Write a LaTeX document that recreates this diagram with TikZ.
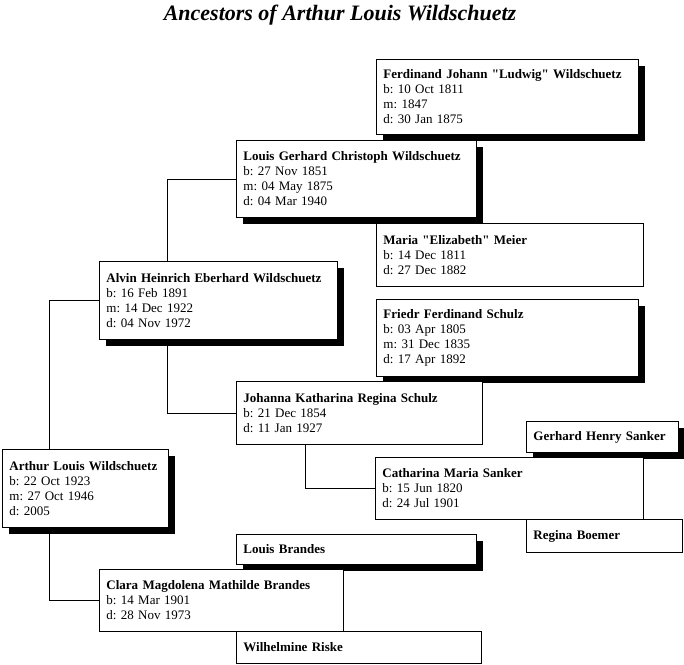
\documentclass[tikz,border=0pt]{standalone}
\usepackage{fontspec}
\setmainfont{Liberation Serif}[Ligatures=TeXOff]
\usetikzlibrary{shadows}

\tikzset{
  person/.style={draw, line width=0.9pt, fill=white, anchor=north west, align=left,
    inner xsep=7pt, inner ysep=0pt, font=\fontsize{13}{15}\selectfont\frenchspacing},
  male/.style={person, drop shadow={shadow xshift=7pt, shadow yshift=-7pt, opacity=1, fill=black}},
  female/.style={person},
  link/.style={draw, line width=0.9pt}
}

\begin{document}
\begin{tikzpicture}[x=1pt, y=-1pt]
  \useasboundingbox (0,0) rectangle (684,664);
  \node [anchor=base] (title) at (340,20) {\fontsize{22}{26}\selectfont\bfseries\itshape Ancestors of Arthur Louis Wildschuetz};

  \node [male, text width=248pt, minimum height=75pt] (ferdinand) at (376,59)
    {\textbf{Ferdinand Johann "Ludwig" Wildschuetz}\\b: 10 Oct 1811\\m: 1847\\d: 30 Jan 1875};
  \node [male, text width=226pt, minimum height=77pt] (louisg) at (236,140)
    {\textbf{Louis Gerhard Christoph Wildschuetz}\\b: 27 Nov 1851\\m: 04 May 1875\\d: 04 Mar 1940};
  \node [female, text width=253pt, minimum height=63pt] (maria) at (376,223)
    {\textbf{Maria "Elizabeth" Meier}\\b: 14 Dec 1811\\d: 27 Dec 1882};
  \node [male, text width=224pt, minimum height=78pt] (alvin) at (99,261)
    {\textbf{Alvin Heinrich Eberhard Wildschuetz}\\b: 16 Feb 1891\\m: 14 Dec 1922\\d: 04 Nov 1972};
  \node [male, text width=248pt, minimum height=77pt] (friedr) at (376,299)
    {\textbf{Friedr Ferdinand Schulz}\\b: 03 Apr 1805\\m: 31 Dec 1835\\d: 17 Apr 1892};
  \node [female, text width=232pt, minimum height=63pt] (johanna) at (236,381)
    {\textbf{Johanna Katharina Regina Schulz}\\b: 21 Dec 1854\\d: 11 Jan 1927};
  \node [male, text width=138pt, minimum height=31pt] (gerhard) at (526,421)
    {\textbf{Gerhard Henry Sanker}};
  \node [male, text width=152pt, minimum height=78pt] (arthur) at (2,449)
    {\textbf{Arthur Louis Wildschuetz}\\b: 22 Oct 1923\\m: 27 Oct 1946\\d: 2005};
  \node [female, text width=254pt, minimum height=62pt] (catharina) at (375,457)
    {\textbf{Catharina Maria Sanker}\\b: 15 Jun 1820\\d: 24 Jul 1901};
  \node [female, text width=142pt, minimum height=33pt] (regina) at (526,519)
    {\textbf{Regina Boemer}};
  \node [male, text width=226pt, minimum height=30pt] (louisb) at (236,534)
    {\textbf{Louis Brandes}};
  \node [female, text width=230pt, minimum height=62pt] (clara) at (99,569)
    {\textbf{Clara Magdolena Mathilde Brandes}\\b: 14 Mar 1901\\d: 28 Nov 1973};
  \node [female, text width=231pt, minimum height=32pt] (wilhelmine) at (236,631)
    {\textbf{Wilhelmine Riske}};

  \draw [link] ([xshift=47pt]arthur.north west) |- (alvin.west);
  \draw [link] ([xshift=47pt]arthur.south west) |- (clara.west);
  \draw [link] ([xshift=68pt]alvin.north west) |- (louisg.west);
  \draw [link] ([xshift=68pt]alvin.south west) |- (johanna.west);
  \draw [link] ([xshift=69pt]johanna.south west) |- (catharina.west);
\end{tikzpicture}
\end{document}
